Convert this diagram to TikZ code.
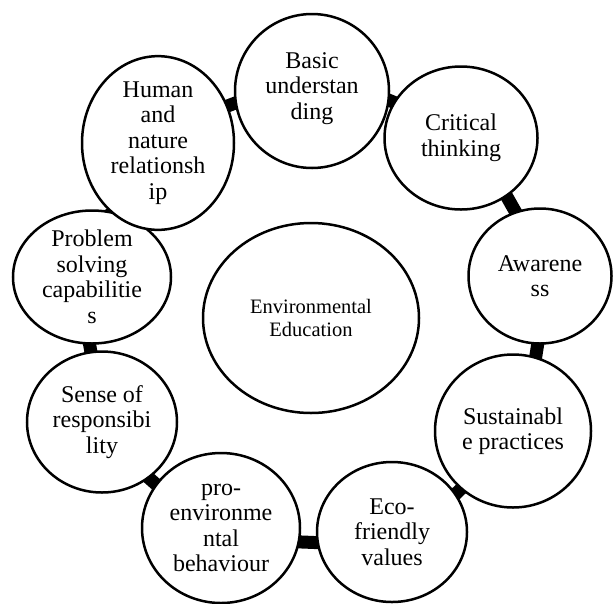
\documentclass[tikz,border=0pt]{standalone}
\usepackage{fontspec}
\setmainfont{Liberation Serif}
\usetikzlibrary{shapes.geometric,backgrounds}

\begin{document}
\begin{tikzpicture}[x=1pt,y=-1pt]
\tikzset{%
  bubble/.style={ellipse,draw,line width=2.5pt,fill=white,align=center,
    inner sep=0pt,font=\fontsize{24}{25.5}\selectfont},
  link/.style={line width=13pt,shorten <=-10pt,shorten >=-10pt}%
}
%% frame of the page

\useasboundingbox (0,0) rectangle (615,603);

%% centre

\node[bubble,minimum width=216pt,minimum height=190pt,
  font=\fontsize{20.5}{23}\selectfont] (EE) at (311,318) {Environmental\\Education};

%% the ring of bubbles

\node[bubble,minimum width=154pt,minimum height=154pt] (basic) at (312,91)
  {Basic\\understan\\ding\\[-15pt]};
\node[bubble,minimum width=153pt,minimum height=143pt] (critical) at (461,138)
  {Critical\\thinking};
\node[bubble,minimum width=143pt,minimum height=135pt] (aware) at (540,276)
  {Awarene\\ss};
\node[bubble,minimum width=156pt,minimum height=153pt] (sustain) at (513,431)
  {Sustainabl\\e practices};
\node[bubble,minimum width=150pt,minimum height=140pt] (eco) at (392,532)
  {Eco-\\friendly\\values};
\node[bubble,minimum width=158pt,minimum height=150pt] (proenv) at (221,528)
  {pro-\\environme\\ntal\\behaviour};
\node[bubble,minimum width=150pt,minimum height=141pt] (sense) at (102,422)
  {Sense of\\responsibi\\lity};
\node[bubble,minimum width=158pt,minimum height=133pt] (problem) at (92,277)
  {Problem\\solving\\capabilitie\\s};
\node[bubble,minimum width=152pt,minimum height=147pt] (human) at (158,143)
  {Human\\and\\nature\\relationsh\\ip};

%% thick bars between neighbours

\begin{scope}[on background layer]
\foreach \a/\aa/\b/\bb in {human/28/basic/189, basic/353/critical/152,
    critical/308/aware/111, aware/268/sustain/73, sustain/228/eco/31,
    eco/188/proenv/350, proenv/146/sense/310, sense/99/problem/268,
    problem/70/human/237}
  \draw[link] (\a.\aa) -- (\b.\bb);
\end{scope}
\end{tikzpicture}
\end{document}
